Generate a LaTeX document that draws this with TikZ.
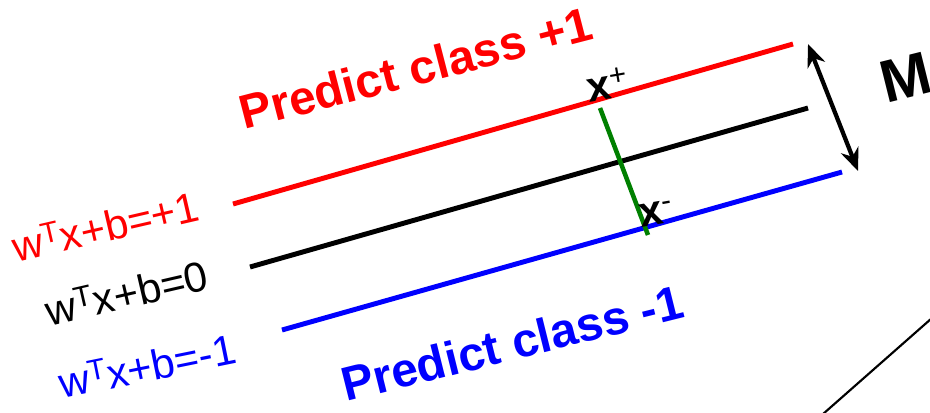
\documentclass[tikz,border=0pt]{standalone}
\usepackage{fontspec}
\setmainfont{Liberation Sans}
\usetikzlibrary{arrows.meta}
\definecolor{myred}{RGB}{255,0,0}
\definecolor{myblue}{RGB}{0,0,255}
\definecolor{mygreen}{RGB}{0,128,0}
\begin{document}
\begin{tikzpicture}[x=0.75pt,y=-0.75pt,
  hyper/.style={line width=3.7pt},
  eqlabel/.style={inner sep=0pt,anchor=base west,rotate=13,font=\fontsize{31.5}{36}\selectfont},
  classlabel/.style={inner sep=0pt,anchor=base west,rotate=14.5,font=\fontsize{35.8}{40}\selectfont\bfseries},
  ptlabel/.style={inner sep=0pt,anchor=base west,rotate=10,font=\fontsize{32}{36}\selectfont\bfseries},
  marginarrow/.style={line width=3.2pt,>={Stealth[length=17pt,width=14pt]},<->}]
\useasboundingbox (0,0) rectangle (930,412);
\clip (0,0) rectangle (930,412);
% hyperplane end points
\coordinate (r1) at (233,204); \coordinate (r2) at (793,44);
\coordinate (k1) at (250,267); \coordinate (k2) at (808,108);
\coordinate (b1) at (282,330); \coordinate (b2) at (842,172);
\coordinate (gp) at (600,108); \coordinate (gm) at (648,235);
\coordinate (m1) at (808,44); \coordinate (m2) at (858,171);
\coordinate (t1) at (823,414); \coordinate (t2) at (932,318);
\draw[hyper,myred] (r1) -- (r2);
\draw[hyper,black] (k1) -- (k2);
\draw[hyper,myblue] (b1) -- (b2);
\draw[line width=3.4pt,mygreen] (gp) -- (gm);
\draw[marginarrow] (m1) -- (m2);
\draw[line width=1.6pt] (t1) -- (t2);
% labels
\node[eqlabel,myred] (lr) at (16,263) {w\textsuperscript{T}x+b=+1};
\node[eqlabel,black] (lk) at (49,327) {w\textsuperscript{T}x+b=0};
\node[eqlabel,myblue,rotate=-1.5] (lb) at (62,399) {w\textsuperscript{T}x+b=-1};
\node[classlabel,myred] (cp) at (244,130) {Predict class +1};
\node[classlabel,myblue,rotate=-0.5] (cm) at (346,402) {Predict class -1};
\node[ptlabel] (xp) at (589,103) {x\textsuperscript{\mdseries +}};
\node[ptlabel] (xm) at (641,228) {x\textsuperscript{\mdseries -}};
\node[inner sep=0pt,anchor=base west,rotate=14,font=\fontsize{45}{50}\selectfont\bfseries] (M) at (886,104) {M};
\end{tikzpicture}
\end{document}
